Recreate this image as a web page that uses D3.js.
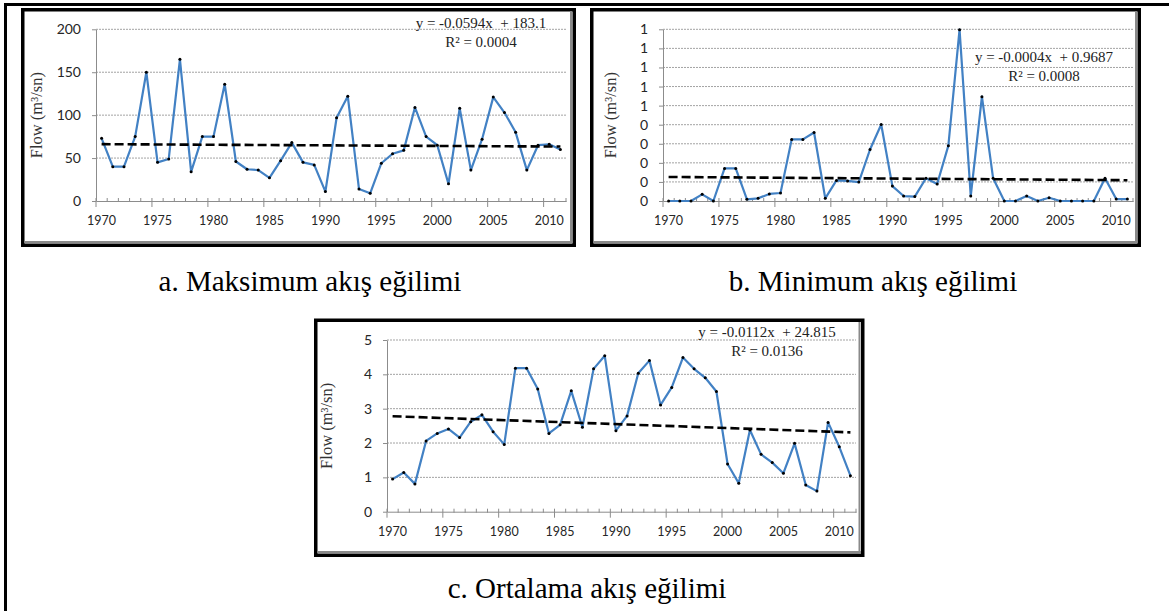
<!DOCTYPE html>
<html>
<head>
<meta charset="utf-8">
<script src="https://cdn.jsdelivr.net/npm/d3@7"></script>
<style>
  html, body { margin: 0; padding: 0; background: #fff; }
  svg { display: block; }
</style>
</head>
<body>
<svg id="fig" width="1169" height="611"></svg>
<script>
// ---------------- DATA ----------------
const years = [1970,1971,1972,1973,1974,1975,1976,1977,1978,1979,
               1980,1981,1982,1983,1984,1985,1986,1987,1988,1989,
               1990,1991,1992,1993,1994,1995,1996,1997,1998,1999,
               2000,2001,2002,2003,2004,2005,2006,2007,2008,2009,
               2010,2011];
const xLabelYears = [1970,1975,1980,1985,1990,1995,2000,2005,2010];

const maxFlow = [73,40,40,75,150,45,49,165,34,75,
                 75,136,46,37,36,27,47,68,45,42,
                 11,97,122,14,9,44,55,59,109,75,
                 65,20,108,36,72,121,103,80,36,65,
                 66,60];
const minFlow = [0,0,0,0.035,0,0.171,0.171,0.009,0.014,0.037,
                 0.042,0.323,0.323,0.359,0.014,0.108,0.105,0.099,0.27,0.401,
                 0.078,0.026,0.023,0.119,0.089,0.29,0.898,0.026,0.547,0.119,
                 0,0,0.026,0,0.017,0,0,0,0,0.119,
                 0.01,0.01];
const meanFlow = [0.95,1.14,0.81,2.06,2.28,2.41,2.16,2.62,2.82,2.33,
                  1.96,4.18,4.18,3.57,2.28,2.53,3.52,2.46,4.16,4.54,
                  2.36,2.79,4.03,4.40,3.11,3.62,4.49,4.16,3.90,3.50,
                  1.39,0.83,2.38,1.67,1.43,1.12,1.99,0.78,0.60,2.60,
                  1.89,1.05];

// trend line values at first and last year (as drawn)
const trendMax = [66.2, 63.4];
const trendMin = [0.126, 0.109];
const trendMean = [2.78, 2.31];

const yTicksMax = [0,50,100,150,200];
const yLabelsMax = ["0","50","100","150","200"];
const yTicksMin = [0,0.1,0.2,0.3,0.4,0.5,0.6,0.7,0.8,0.9];
const yLabelsMin = ["0","0","0","0","0","1","1","1","1","1"];
const yTicksMean = [0,1,2,3,4,5];
const yLabelsMean = ["0","1","2","3","4","5"];

const eqMax = ["y = -0.0594x  + 183.1", "R\u00B2 = 0.0004"];
const eqMin = ["y = -0.0004x  + 0.9687", "R\u00B2 = 0.0008"];
const eqMean = ["y = -0.0112x  + 24.815", "R\u00B2 = 0.0136"];

const yTitle = "Flow (m\u00B3/sn)";
const captions = ["a. Maksimum akış eğilimi", "b. Minimum akış eğilimi", "c. Ortalama akış eğilimi"];

// ---------------- DRAW ----------------
const svg = d3.select("#fig");
svg.append("rect").attr("width",1169).attr("height",611).attr("fill","#fff");

// outer figure frame (top and left)
svg.append("line").attr("x1",4).attr("x2",1169).attr("y1",4.6).attr("y2",4.6)
   .attr("stroke","#000").attr("stroke-width",3);
svg.append("line").attr("x1",5.5).attr("x2",5.5).attr("y1",3).attr("y2",611)
   .attr("stroke","#000").attr("stroke-width",3);

const BLUE = "#4281C4";
const SERIF = "'Liberation Serif','Times New Roman',serif";
const SANS = "Lato, 'Open Sans', sans-serif";

function drawChart(c) {
  const g = svg.append("g");
  // box
  const [bx0, by0, bx1, by1] = c.box;
  g.append("rect").attr("x", bx0+1.75).attr("y", by0+1.75)
    .attr("width", bx1-bx0-3.5).attr("height", by1-by0-3.5)
    .attr("fill","#fff").attr("stroke","#000").attr("stroke-width",3.5);
  // gray inner shade right & bottom
  g.append("line").attr("x1", bx1-5).attr("x2", bx1-5).attr("y1", by0+3.5).attr("y2", by1-3.5)
    .attr("stroke","#8a8a8a").attr("stroke-width",2);
  g.append("line").attr("x1", bx0+3.5).attr("x2", bx1-3.5).attr("y1", by1-5).attr("y2", by1-5)
    .attr("stroke","#8a8a8a").attr("stroke-width",2);

  const x = d3.scaleBand().domain(years).range([c.x0, c.x1]).padding(0);
  const bw = x.bandwidth();
  const y = d3.scaleLinear().domain([0, c.yMax]).range([c.y0, c.yTop]);

  // gridlines
  g.append("g").selectAll("line").data(c.yTicks.filter(v => v > 0)).join("line")
    .attr("x1", c.x0).attr("x2", c.x1)
    .attr("y1", d => y(d)).attr("y2", d => y(d))
    .attr("stroke","#a3a3a3").attr("stroke-width",1).attr("stroke-dasharray","2,1");

  // y axis
  const ya = g.append("g").attr("transform", `translate(${c.x0},0)`)
    .call(d3.axisLeft(y).tickValues(c.yTicks).tickFormat((d,i) => c.yLabels[i])
          .tickSize(4).tickSizeOuter(0).tickPadding(11));
  ya.select(".domain").attr("stroke","#8c8c8c");
  ya.selectAll(".tick line").attr("stroke","#8c8c8c");
  ya.selectAll(".tick text").attr("font-family", SANS).attr("font-size", 14).attr("fill","#262626");

  // x axis
  const xa = g.append("g").attr("transform", `translate(0,${c.y0})`)
    .call(d3.axisBottom(x).tickValues(xLabelYears).tickSize(0).tickPadding(15));
  xa.select(".domain").attr("stroke","#8c8c8c");
  xa.selectAll(".tick text").attr("font-family", SANS).attr("font-size", 12.5).attr("fill","#262626");
  // tick marks at category boundaries
  const bounds = years.map((yr,i) => ({pos: x(yr), major: i % 5 === 0})).concat([{pos: c.x1, major:false}]);
  g.append("g").selectAll("line").data(bounds).join("line")
    .attr("x1", d => d.pos).attr("x2", d => d.pos)
    .attr("y1", d => c.y0 - 3).attr("y2", d => c.y0 + (d.major ? 6 : 1))
    .attr("stroke","#8c8c8c").attr("stroke-width",1);

  // y title
  g.append("text")
    .attr("transform", `translate(${c.titleX},${(c.y0 + c.yTop)/2}) rotate(-90)`)
    .attr("text-anchor","middle").attr("dominant-baseline","middle")
    .attr("font-family", SERIF).attr("font-size", 16.5).attr("fill","#333")
    .text(yTitle);

  // series line
  const line = d3.line().x((d,i) => x(years[i]) + bw/2).y(d => y(d));
  g.append("path").datum(c.values).attr("d", line)
    .attr("fill","none").attr("stroke", BLUE).attr("stroke-width",2.2)
    .attr("stroke-linejoin","round");
  g.append("g").selectAll("circle").data(c.values).join("circle")
    .attr("cx", (d,i) => x(years[i]) + bw/2).attr("cy", d => y(d)).attr("r",1.5)
    .attr("fill","#000");

  // trend line
  const first = years[0], last = years[years.length-1];
  g.append("line")
    .attr("x1", x(first)+bw/2).attr("x2", x(last)+bw/2)
    .attr("y1", y(c.trend[0])).attr("y2", y(c.trend[1]))
    .attr("stroke","#000").attr("stroke-width",2.6).attr("stroke-dasharray","9,4");

  // equation
  g.append("text").attr("x", c.eqX).attr("y", c.eqY).attr("text-anchor","middle")
    .attr("font-family", SERIF).attr("font-size", 15).attr("fill","#222")
    .attr("xml:space","preserve").style("white-space","pre").text(c.eq[0]);
  g.append("text").attr("x", c.eqX).attr("y", c.eqY + 18.5).attr("text-anchor","middle")
    .attr("font-family", SERIF).attr("font-size", 15).attr("fill","#222").text(c.eq[1]);

  // caption
  svg.append("text").attr("x", c.capX).attr("y", c.capY).attr("text-anchor","middle")
    .attr("font-family", SERIF).attr("font-size", 29).attr("fill","#000").text(c.caption);
}

drawChart({
  box: [21, 8, 576, 247], x0: 96, x1: 566, y0: 201, yTop: 29.3, yMax: 200,
  yTicks: yTicksMax, yLabels: yLabelsMax, values: maxFlow, trend: trendMax,
  titleX: 38, eq: eqMax, eqX: 481, eqY: 28, caption: captions[0], capX: 310, capY: 291
});
drawChart({
  box: [590, 8, 1141, 247], x0: 663, x1: 1133, y0: 201, yTop: 29.3, yMax: 0.9,
  yTicks: yTicksMin, yLabels: yLabelsMin, values: minFlow, trend: trendMin,
  titleX: 612, eq: eqMin, eqX: 1044, eqY: 62, caption: captions[1], capX: 873, capY: 291
});
drawChart({
  box: [314, 318.5, 864.5, 557], x0: 387, x1: 856, y0: 511.7, yTop: 340, yMax: 5,
  yTicks: yTicksMean, yLabels: yLabelsMean, values: meanFlow, trend: trendMean,
  titleX: 328, eq: eqMean, eqX: 767, eqY: 337, caption: captions[2], capX: 587, capY: 598
});
</script>
</body>
</html>
